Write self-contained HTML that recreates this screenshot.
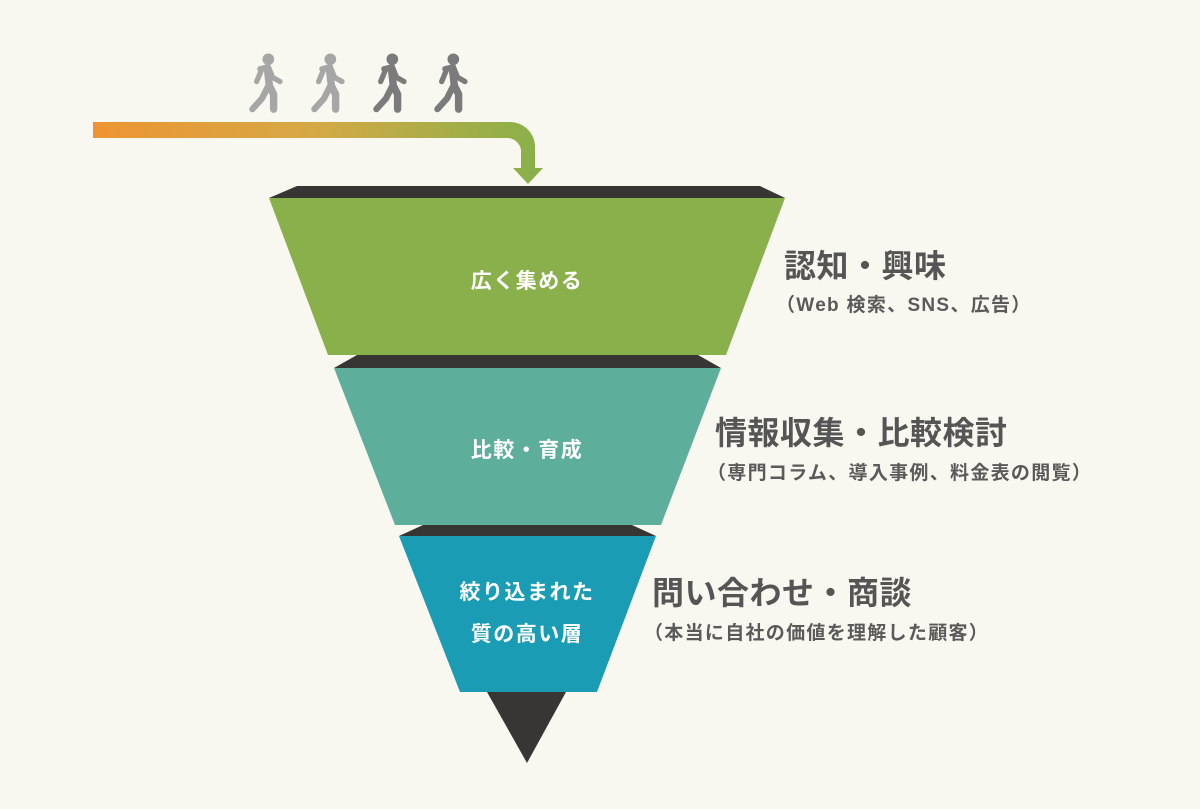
<!DOCTYPE html>
<html><head><meta charset="utf-8">
<style>
html,body{margin:0;padding:0;background:#f9f8f0;}
body{width:1200px;height:809px;overflow:hidden;position:relative;font-family:"Liberation Sans","Noto Sans CJK JP",sans-serif;}
.t{position:absolute;color:#555;font-weight:bold;white-space:nowrap;}
.h{font-size:32px;letter-spacing:0.5px;line-height:1;}
.s{font-size:19px;letter-spacing:1.3px;line-height:1;font-weight:bold;color:#5a5a5a;}
.c{position:absolute;color:#fff;font-weight:bold;font-size:21px;letter-spacing:1.5px;white-space:nowrap;text-align:center;line-height:1;transform:translateX(-50%);}
</style></head><body>
<svg width="1200" height="809" style="position:absolute;left:0;top:0">
<defs>
<linearGradient id="g" x1="93" y1="0" x2="535" y2="0" gradientUnits="userSpaceOnUse">
<stop offset="0" stop-color="#ee9433"/><stop offset="0.5" stop-color="#d5a945"/><stop offset="1" stop-color="#8ab04a"/>
</linearGradient>
<g id="p">
<circle cx="22" cy="5" r="5"/>
<path d="M14 14 L22 12 L26 22 L33 26" stroke-width="5" stroke-linecap="round" stroke-linejoin="round" fill="none"/>
<path d="M21 13 L23 30 L27 38 L27 52" stroke-width="7" stroke-linecap="round" stroke-linejoin="round" fill="none"/>
<path d="M22 30 L16 42 L7 52" stroke-width="6" stroke-linecap="round" stroke-linejoin="round" fill="none"/>
<path d="M16 14 L11 26" stroke-width="5" stroke-linecap="round" fill="none"/>
</g>
</defs>
<g fill="#a6a6a6" stroke="#a6a6a6"><use href="#p" transform="translate(245,54) scale(1.06)"/><use href="#p" transform="translate(307,54) scale(1.06)"/></g>
<g fill="#7b7b7b" stroke="#7b7b7b"><use href="#p" transform="translate(369,54) scale(1.06)"/><use href="#p" transform="translate(430,54) scale(1.06)"/></g>
<path d="M93 122 H510 A25 25 0 0 1 535 147 V168 H543 L528 184 L513 168 H521 V150 A14 14 0 0 0 507 138 H93 Z" fill="url(#g)"/>
<polygon points="297,186 760,186 785,198 269,198" fill="#383535"/>
<polygon points="269,198 785,198 726,355 328,355" fill="#89b04b"/>
<polygon points="357,355 698,355 721,368 334,368" fill="#383535"/>
<polygon points="334,368 721,368 661,525 395,525" fill="#5dae9b"/>
<polygon points="423,525 632,525 656,536 399,536" fill="#383535"/>
<polygon points="399,536 656,536 597,692 460,692" fill="#1b9cb5"/>
<polygon points="487,692 566,692 527,763" fill="#383535"/>
</svg>
<div class="c" style="left:527px;top:271px">広く集める</div>
<div class="c" style="left:527px;top:440px">比較・育成</div>
<div class="c" style="left:527px;top:582px">絞り込まれた</div>
<div class="c" style="left:527px;top:624px">質の高い層</div>
<div class="t h" style="left:784px;top:250px">認知・興味</div>
<div class="t s" style="left:776px;top:296px">（Web 検索、SNS、広告）</div>
<div class="t h" style="left:715px;top:417px">情報収集・比較検討</div>
<div class="t s" style="left:707px;top:464px">（専門コラム、導入事例、料金表の閲覧）</div>
<div class="t h" style="left:652px;top:577px">問い合わせ・商談</div>
<div class="t s" style="left:644px;top:624px">（本当に自社の価値を理解した顧客）</div>
</body></html>
